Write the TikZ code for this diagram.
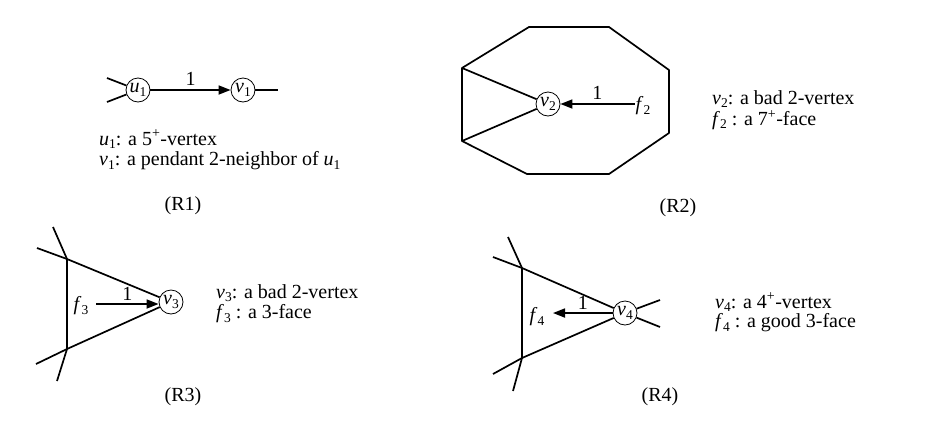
\documentclass[tikz,border=0pt]{standalone}
\usepackage{fontspec}
\setmainfont{Liberation Serif}
\usetikzlibrary{arrows.meta}
\newcommand{\lv}[2]{\textit{#1}\raisebox{-0.16em}{\fontsize{13.5}{14}\selectfont #2}}
\begin{document}
\begin{tikzpicture}[x=1pt,y=-1pt,
  every node/.style={font=\fontsize{20}{23}\selectfont},
  edge/.style={line width=1.7pt},
  vtx/.style={circle,draw,line width=0.8pt,inner sep=0pt,minimum size=24pt,fill=white},
  arr/.style={line width=1.7pt,-{Triangle[length=12pt,width=9pt]}},
  txt/.style={anchor=west,inner sep=0pt},
  captxt/.style={inner sep=0pt}]
\useasboundingbox (0,0) rectangle (928,429);

% ---------- R1 ----------
\node[vtx] (u1) at (138,90) {\lv{u}{1}};
\node[vtx] (v1) at (243,90) {\lv{v}{1}};
\coordinate (a1) at (107,78);
\coordinate (a2) at (107,102);
\coordinate (a3) at (278,90);
\draw[edge] (a1) -- (u1);
\draw[edge] (a2) -- (u1);
\draw[edge] (v1) -- (a3);
\draw[arr] (u1) -- node[above=0pt] (l1) {1} (v1);
\node[txt] (t11) at (99,139) {\lv{u}{1}: a 5\textsuperscript{+}-vertex};
\node[txt] (t12) at (99,161) {\lv{v}{1}: a pendant 2-neighbor of \lv{u}{1}};
\node[captxt] (c1) at (183,206) {(R1)};

% ---------- R2 ----------
\coordinate (o1) at (529,27);
\coordinate (o2) at (609,27);
\coordinate (o3) at (669,70);
\coordinate (o4) at (669,133);
\coordinate (o5) at (609,174);
\coordinate (o6) at (527,174);
\coordinate (o7) at (462,141);
\coordinate (o8) at (462,68);
\draw[edge,line join=round] (o1) -- (o2) -- (o3) -- (o4) -- (o5) -- (o6) -- (o7) -- (o8) -- cycle;
\node[vtx] (v2) at (548,104) {\lv{v}{2}};
\draw[edge] (o8) -- (v2);
\draw[edge] (o7) -- (v2);
\node[inner sep=1pt] (f2) at (643,106) {\lv{f}{2}};
\draw[arr] (f2.west |- v2) -- node[above=0pt] (l2) {1} (v2);
\node[txt] (t21) at (712,99) {\lv{v}{2}: a bad 2-vertex};
\node[txt] (t22) at (712,120) {\lv{f}{2} : a 7\textsuperscript{+}-face};
\node[captxt] (c2) at (678,208) {(R2)};

% ---------- R3 ----------
\coordinate (p1) at (67,259);
\coordinate (p2) at (67,349);
\node[vtx] (v3) at (171,302) {\lv{v}{3}};
\coordinate (e1) at (53,227);
\coordinate (e2) at (37,248);
\coordinate (e3) at (36,364);
\coordinate (e4) at (57,381);
\draw[edge] (e1) -- (p1);
\draw[edge] (e2) -- (p1);
\draw[edge] (e3) -- (p2);
\draw[edge] (e4) -- (p2);
\draw[edge] (p1) -- (p2);
\draw[edge] (p1) -- (v3);
\draw[edge] (p2) -- (v3);
\node[inner sep=1pt] (f3) at (81,306) {\lv{f}{3}};
\coordinate (s3) at (96,304);
\draw[arr] (s3) -- node[above=-1pt] (l3) {1} (v3.west |- s3);
\node[txt] (t31) at (216,293) {\lv{v}{3}: a bad 2-vertex};
\node[txt] (t32) at (216,314) {\lv{f}{3} : a 3-face};
\node[captxt] (c3) at (183,397) {(R3)};

% ---------- R4 ----------
\coordinate (q1) at (522,268);
\coordinate (q2) at (522,358);
\node[vtx] (v4) at (625,313) {\lv{v}{4}};
\coordinate (g1) at (508,237);
\coordinate (g2) at (493,257);
\coordinate (g3) at (493,374);
\coordinate (g4) at (513,391);
\coordinate (g5) at (660,300);
\coordinate (g6) at (660,327);
\draw[edge] (g1) -- (q1);
\draw[edge] (g2) -- (q1);
\draw[edge] (g3) -- (q2);
\draw[edge] (g4) -- (q2);
\draw[edge] (q1) -- (q2);
\draw[edge] (q1) -- (v4);
\draw[edge] (q2) -- (v4);
\draw[edge] (v4) -- (g5);
\draw[edge] (v4) -- (g6);
\node[inner sep=1pt] (f4) at (537,317) {\lv{f}{4}};
\coordinate (s4) at (553,313);
\draw[arr] (v4.west) -- node[above=-1pt] (l4) {1} (s4);
\node[txt] (t41) at (715,302) {\lv{v}{4}: a 4\textsuperscript{+}-vertex};
\node[txt] (t42) at (715,323) {\lv{f}{4} : a good 3-face};
\node[captxt] (c4) at (660,397) {(R4)};
\end{tikzpicture}
\end{document}
